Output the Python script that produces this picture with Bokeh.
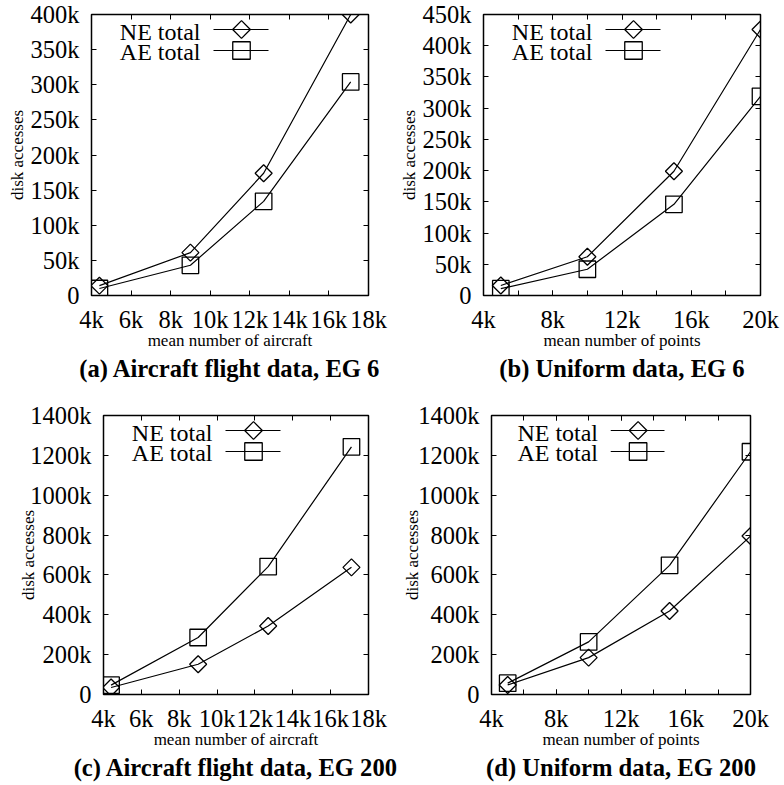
import numpy as np
from bokeh.plotting import figure
from bokeh.layouts import column, row
from bokeh.models import Range1d, FixedTicker, LinearAxis, Title, CustomJSTickFormatter
from bokeh.embed import file_html
from bokeh.resources import INLINE
from bokeh.core.properties import value

# ---- data ----
aircraft_x = [4400, 9000, 12700, 17100]
points_x = [5000, 10000, 15000, 20000]

a_ne = [14000, 61000, 174000, 400000]
a_ae = [10000, 43000, 134000, 304000]
b_ne = [16000, 62000, 199000, 426000]
b_ae = [11000, 42000, 146000, 319000]
c_ne = [35000, 152000, 344000, 638000]
c_ae = [47000, 286000, 642000, 1243000]
d_ne = [48000, 185000, 419000, 795000]
d_ae = [57000, 264000, 648000, 1218000]

series_names = ["NE total", "AE total"]

air_ticks = [4000, 6000, 8000, 10000, 12000, 14000, 16000, 18000]
air_labels = ["4k", "6k", "8k", "10k", "12k", "14k", "16k", "18k"]
pts_ticks = [4000, 8000, 12000, 16000, 20000]
pts_labels = ["4k", "8k", "12k", "16k", "20k"]
pts_minor = [4000, 6000, 8000, 10000, 12000, 14000, 16000, 18000, 20000]

y400_ticks = [0, 50000, 100000, 150000, 200000, 250000, 300000, 350000, 400000]
y400_labels = ["0", "50k", "100k", "150k", "200k", "250k", "300k", "350k", "400k"]
y450_ticks = y400_ticks + [450000]
y450_labels = y400_labels + ["450k"]
y1400_ticks = [0, 200000, 400000, 600000, 800000, 1000000, 1200000, 1400000]
y1400_labels = ["0", "200k", "400k", "600k", "800k", "1000k", "1200k", "1400k"]

captions = ["(a) Aircraft flight data, EG 6", "(b) Uniform data, EG 6",
            "(c) Aircraft flight data, EG 200", "(d) Uniform data, EG 200"]
xlabels = ["mean number of aircraft", "mean number of points"]
ylabel = "disk accesses"

FONT = "Liberation Serif"


def style_axis(ax, ticks, minor, labels, show_labels=True):
    ax.ticker = FixedTicker(ticks=ticks, minor_ticks=minor)
    ax.axis_line_color = None
    ax.major_tick_in = 5
    ax.major_tick_out = 0
    ax.minor_tick_in = 5 if minor else 0
    ax.minor_tick_out = 0
    ax.major_tick_line_color = "black"
    ax.minor_tick_line_color = "black"
    ax.major_tick_line_width = 1
    ax.minor_tick_line_width = 1
    if show_labels:
        ax.major_label_overrides = {t: s for t, s in zip(ticks, labels)}
        ax.major_label_text_font = FONT
        ax.major_label_text_font_size = "24.5px"
        ax.major_label_text_color = "black"
    else:
        ax.formatter = CustomJSTickFormatter(code="return ''")
        ax.major_label_text_font_size = "0px"
        ax.major_label_standoff = 0


def panel(xs, ne, ae, xr, yr, xt, xminor, xl, yt, yl, xlabel, caption,
          left, right, top, bottom, width, height, ylabel_standoff):
    p = figure(width=width, height=height, x_range=Range1d(*xr), y_range=Range1d(*yr),
               output_backend="svg", toolbar_location=None,
               min_border_left=left, min_border_right=right,
               min_border_top=top, min_border_bottom=bottom)
    p.grid.visible = False
    p.outline_line_color = "black"
    p.outline_line_width = 1.5
    p.background_fill_color = "white"
    p.border_fill_color = "white"

    xa = p.xaxis[0]
    ya = p.yaxis[0]
    style_axis(xa, xt, xminor, xl)
    style_axis(ya, yt, [], yl)
    xa.major_label_standoff = 10
    ya.major_label_standoff = 12
    xa.axis_label = xlabel
    ya.axis_label = ylabel
    for ax in (xa, ya):
        ax.axis_label_text_font = FONT
        ax.axis_label_text_font_size = "17px"
        ax.axis_label_text_font_style = "normal"
        ax.axis_label_text_color = "black"
    xa.axis_label_standoff = -5
    ya.axis_label_standoff = ylabel_standoff

    # mirrored ticks on the top and right edges
    ra = LinearAxis()
    style_axis(ra, yt, [], yl, show_labels=False)
    p.add_layout(ra, "right")
    ta = LinearAxis()
    style_axis(ta, xt, xminor, xl, show_labels=False)
    p.add_layout(ta, "above")

    # series
    p.line(xs, ne, line_color="black", line_width=1.2)
    p.line(xs, ae, line_color="black", line_width=1.2)
    p.scatter(xs, ne, marker="square", angle=np.pi / 4, size=12, fill_color=None,
              line_color="black", line_width=1.3)
    p.scatter(xs, ae, marker="square", size=16.5, fill_color=None,
              line_color="black", line_width=1.3)

    # key, positioned in pixels from the top-left corner of the frame
    fw = width - left - right
    fh = height - top - bottom
    p.extra_x_ranges = {"px": Range1d(0, fw)}
    p.extra_y_ranges = {"px": Range1d(fh, 0)}
    rows_y = [15, 36]
    text_y = [17, 37]
    for i, name in enumerate(series_names):
        p.text(x=[109], y=[text_y[i]], text=[name], x_range_name="px", y_range_name="px",
               text_align="right", text_baseline="middle",
               text_font=value(FONT), text_font_size="24px", text_color="black")
        p.line(x=[122, 177], y=[rows_y[i], rows_y[i]], x_range_name="px", y_range_name="px",
               line_color="black", line_width=1.2)
    p.scatter(x=[150], y=[rows_y[0]], x_range_name="px", y_range_name="px",
              marker="square", angle=np.pi / 4, size=12.5, fill_color=None,
              line_color="black", line_width=1.3)
    p.scatter(x=[150], y=[rows_y[1]], x_range_name="px", y_range_name="px",
              marker="square", size=17.5, fill_color=None,
              line_color="black", line_width=1.3)

    t = Title(text=caption, align="center", text_font=FONT, text_font_size="24.6px",
              text_font_style="bold", text_color="black", standoff=0, offset=0)
    p.add_layout(t, "below")
    return p


pa = panel(aircraft_x, a_ne, a_ae, (4000, 18000), (0, 400000), air_ticks, [], air_labels,
           y400_ticks, y400_labels, xlabels[0], captions[0], 91, 24, 14, 97, 392, 392, 1)
pb = panel(points_x, b_ne, b_ae, (4000, 20000), (0, 450000), pts_ticks, pts_minor, pts_labels,
           y450_ticks, y450_labels, xlabels[1], captions[1], 91, 24, 14, 97, 392, 392, 1)
pc = panel(aircraft_x, c_ne, c_ae, (4000, 18000), (0, 1400000), air_ticks, [], air_labels,
           y1400_ticks, y1400_labels, xlabels[0], captions[2], 103, 32, 23, 91, 400, 393, -11)
pd = panel(points_x, d_ne, d_ae, (4000, 20000), (0, 1400000), pts_ticks, pts_minor, pts_labels,
           y1400_ticks, y1400_labels, xlabels[1], captions[3], 85, 34, 23, 91, 384, 393, -7)

layout = column(row(pa, pb, spacing=0), row(pc, pd, spacing=0), spacing=0)
open("out.html", "w").write(file_html(layout, INLINE))
